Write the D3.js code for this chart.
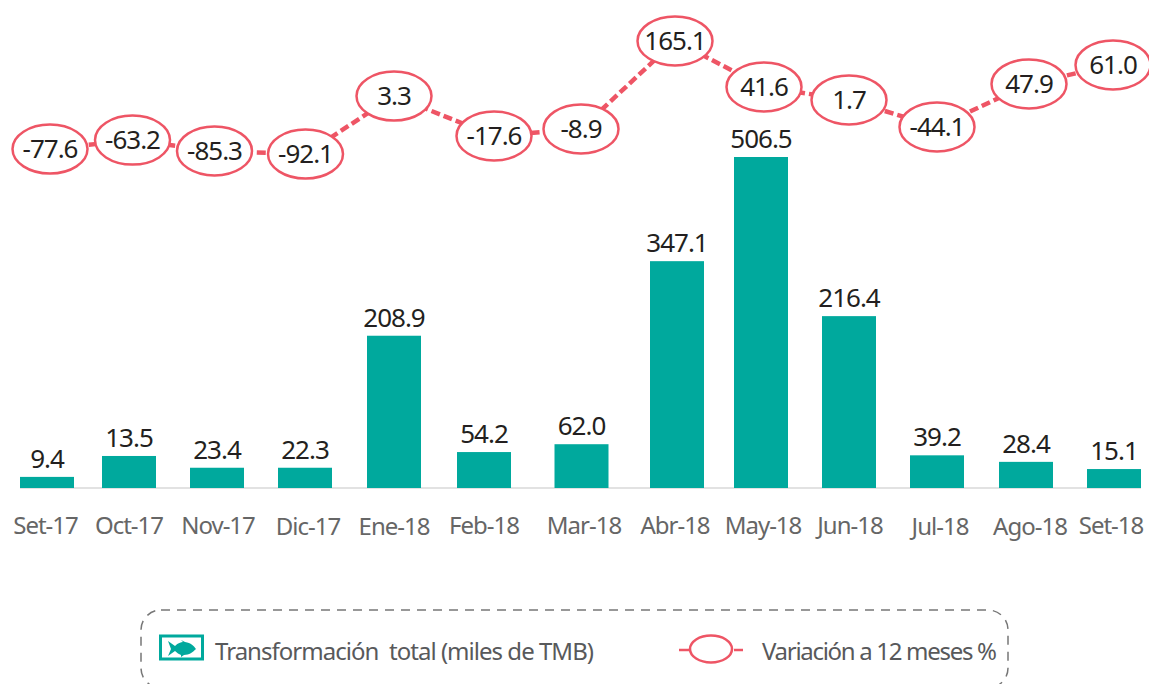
<!DOCTYPE html>
<html><head><meta charset="utf-8">
<script src="https://cdn.jsdelivr.net/npm/d3@7"></script>
<style>html,body{margin:0;background:#fff}svg{display:block}text{font-family:"Noto Sans",sans-serif}</style>
</head><body><svg id="c" width="1149" height="684"></svg>
<script>
const categories=["Set-17","Oct-17","Nov-17","Dic-17","Ene-18","Feb-18","Mar-18","Abr-18","May-18","Jun-18","Jul-18","Ago-18","Set-18"];
const barLabels=["9.4","13.5","23.4","22.3","208.9","54.2","62.0","347.1","506.5","216.4","39.2","28.4","15.1"];
const barDrawn=[17,49,31,31,233,55,67,347.1,506.5,263,50,40,29];
const lineLabels=["-77.6","-63.2","-85.3","-92.1","3.3","-17.6","-8.9","165.1","41.6","1.7","-44.1","47.9","61.0"];
const lineDrawn=[-78.6,-58.5,-83,-90,41,-49.2,-33.4,165.2,61.4,32,-28.9,68.2,111];

const svg=d3.select("#c");
const teal="#00A99D",pink="#EE5565";
const x=d3.scaleOrdinal().domain(categories).range([47,129,217,305,394,484,581.5,677,761,849,937,1026,1114]);
const xLine=d3.scaleOrdinal().domain(categories).range([50,132.5,214.5,305.5,394,494,581,675,764,849,937,1029,1113]);
const xCat=d3.scaleOrdinal().domain(categories).range([45.5,129,218,308,394,484,584,675,763,850,940,1030,1111]);
const y=d3.scaleLinear().domain([0,506.5]).range([488,157]);
const yL=d3.scaleLinear().domain([-92.1,165.1]).range([155,41]);
const bw=54;

svg.append("line").attr("x1",20).attr("x2",1141).attr("y1",488).attr("y2",488).attr("stroke","#d9d9d9").attr("stroke-width",1.5);
svg.selectAll("rect.b").data(categories).join("rect").attr("class","b")
 .attr("x",d=>x(d)-bw/2).attr("width",bw)
 .attr("y",(d,i)=>y(barDrawn[i])).attr("height",(d,i)=>y(0)-y(barDrawn[i])).attr("fill",teal);
svg.selectAll("text.v").data(categories).join("text").attr("class","v")
 .attr("x",d=>x(d)).attr("y",(d,i)=>y(barDrawn[i])-9).attr("text-anchor","middle")
 .attr("font-size",26).attr("letter-spacing",-1).attr("fill","#231f20").text((d,i)=>barLabels[i]);
svg.selectAll("text.c").data(categories).join("text").attr("class","c")
 .attr("x",d=>xCat(d)).attr("y",(d,i)=>[3,4,10,11].includes(i)?535:534).attr("text-anchor","middle")
 .attr("font-size",24).attr("letter-spacing",-1).attr("fill","#666").text(d=>d);

const line=d3.line().x((d,i)=>xLine(categories[i])).y(d=>yL(d));
svg.append("path").attr("d",line(lineDrawn)).attr("fill","none").attr("stroke",pink).attr("stroke-width",4.5).attr("stroke-dasharray","9 4");
svg.selectAll("ellipse.p").data(categories).join("ellipse").attr("class","p")
 .attr("cx",d=>xLine(d)).attr("cy",(d,i)=>yL(lineDrawn[i])).attr("rx",37.5).attr("ry",24.5)
 .attr("fill","#fff").attr("stroke",pink).attr("stroke-width",2.5);
svg.selectAll("text.l").data(categories).join("text").attr("class","l")
 .attr("x",d=>xLine(d)).attr("y",(d,i)=>yL(lineDrawn[i])+9).attr("text-anchor","middle")
 .attr("font-size",26).attr("letter-spacing",-1).attr("fill","#231f20").text((d,i)=>lineLabels[i]);

const leg=svg.append("g");
leg.append("rect").attr("x",141).attr("y",610).attr("width",867).attr("height",78).attr("rx",20).attr("fill","none")
 .attr("stroke","#777").attr("stroke-width",1.5).attr("stroke-dasharray","9 7");
leg.append("rect").attr("x",160.5).attr("y",636).attr("width",42).attr("height",23).attr("fill","#fff").attr("stroke",teal).attr("stroke-width",3);
leg.append("path").attr("fill",teal).attr("d","M168 641 L175 646 C178 643 181 642 183 642 L181 640 L185 642 C191 643 194 646 196 649 C193 652 189 655 184 655 L181 657 L181 655 C179 654 177 653 175 651 L168 656 L171 649 Z");
leg.append("text").attr("x",215).attr("y",660).attr("font-size",24).attr("fill","#58595b").text("Transformación  total (miles de TMB)").attr("xml:space","preserve").attr("textLength",379);
leg.append("line").attr("x1",679).attr("x2",690).attr("y1",650).attr("y2",650).attr("stroke",pink).attr("stroke-width",2.5);
leg.append("line").attr("x1",734).attr("x2",743).attr("y1",650).attr("y2",650).attr("stroke",pink).attr("stroke-width",2.5);
leg.append("ellipse").attr("cx",711).attr("cy",649).attr("rx",21).attr("ry",13.5).attr("fill","#fff").attr("stroke",pink).attr("stroke-width",2.5);
leg.append("text").attr("x",762).attr("y",660).attr("font-size",24).attr("fill","#58595b").text("Variación a 12 meses %").attr("textLength",235);
</script></body></html>
